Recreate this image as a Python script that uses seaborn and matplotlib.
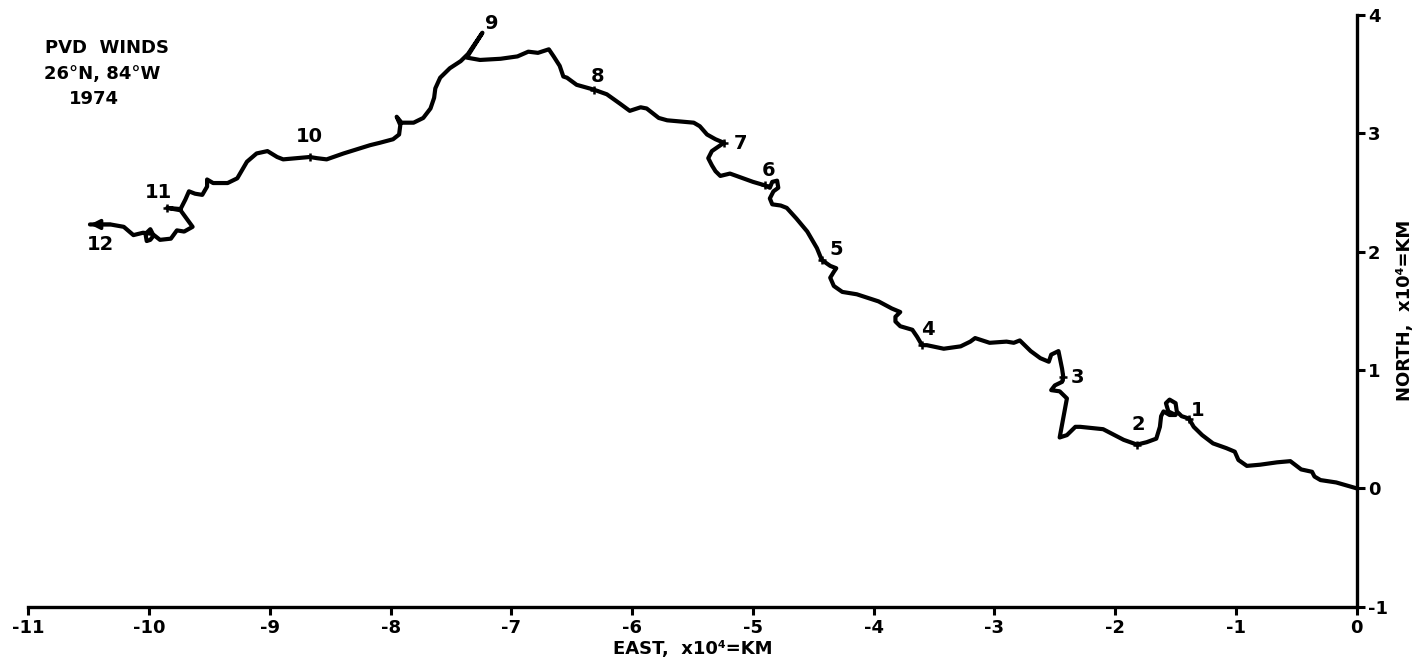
import matplotlib
matplotlib.use("Agg")
import matplotlib.pyplot as plt
import seaborn as sns
import pandas as pd

# ---- data (x10^4 km) ----
east = [0.00, -0.17, -0.30, -0.35, -0.37, -0.46, -0.55, -0.66, -0.80, -0.91, -0.98, -1.01, -1.08,
        -1.19, -1.28, -1.35, -1.39, -1.45, -1.49, -1.50, -1.55, -1.58, -1.56, -1.50, -1.55, -1.60,
        -1.62, -1.63, -1.66, -1.74, -1.82, -1.93, -2.10, -2.29, -2.33, -2.40, -2.46, -2.44, -2.42,
        -2.40, -2.46, -2.53, -2.50, -2.44, -2.43, -2.44, -2.46, -2.47, -2.53, -2.55, -2.62, -2.70,
        -2.79, -2.84, -2.90, -3.04, -3.16, -3.20, -3.28, -3.42, -3.56, -3.60, -3.64, -3.68, -3.78,
        -3.82, -3.82, -3.78, -3.85, -3.96, -4.14, -4.26, -4.33, -4.36, -4.33, -4.31, -4.36, -4.43,
        -4.47, -4.55, -4.64, -4.72, -4.77, -4.84, -4.86, -4.83, -4.79, -4.80, -4.84, -4.86, -4.90,
        -5.00, -5.11, -5.19, -5.27, -5.31, -5.34, -5.37, -5.34, -5.24, -5.31, -5.38, -5.44, -5.49,
        -5.60, -5.71, -5.78, -5.88, -5.93, -6.02, -6.10, -6.21, -6.32, -6.46, -6.54, -6.57, -6.60,
        -6.65, -6.69, -6.78, -6.86, -6.95, -7.09, -7.26, -7.37, -7.24, -7.36, -7.42, -7.51, -7.59,
        -7.63, -7.64, -7.67, -7.73, -7.81, -7.91, -7.95, -7.92, -7.93, -7.98, -8.09, -8.17, -8.39,
        -8.53, -8.61, -8.67, -8.78, -8.89, -8.94, -9.02, -9.11, -9.19, -9.23, -9.27, -9.35, -9.47,
        -9.52, -9.52, -9.56, -9.62, -9.67, -9.70, -9.74, -9.85, -9.74, -9.69, -9.64, -9.71, -9.77,
        -9.82, -9.91, -9.96, -9.99, -10.02, -10.03, -9.99, -9.97, -10.05, -10.13, -10.21, -10.32,
        -10.43, -10.49]
north = [0.00, 0.05, 0.07, 0.10, 0.14, 0.16, 0.23, 0.22, 0.20, 0.19, 0.24, 0.31, 0.34,
         0.38, 0.45, 0.52, 0.59, 0.61, 0.65, 0.72, 0.75, 0.72, 0.65, 0.62, 0.62, 0.65,
         0.61, 0.52, 0.42, 0.39, 0.37, 0.41, 0.50, 0.52, 0.52, 0.45, 0.43, 0.54, 0.65,
         0.76, 0.82, 0.83, 0.87, 0.90, 0.94, 1.01, 1.11, 1.16, 1.13, 1.07, 1.10, 1.16,
         1.25, 1.23, 1.24, 1.23, 1.27, 1.24, 1.20, 1.18, 1.21, 1.21, 1.28, 1.34, 1.37,
         1.41, 1.45, 1.49, 1.52, 1.58, 1.64, 1.66, 1.71, 1.78, 1.83, 1.86, 1.88, 1.93,
         2.03, 2.17, 2.28, 2.37, 2.39, 2.40, 2.45, 2.51, 2.54, 2.60, 2.59, 2.54, 2.56,
         2.59, 2.63, 2.66, 2.64, 2.68, 2.73, 2.79, 2.85, 2.92, 2.95, 2.99, 3.06, 3.09,
         3.10, 3.11, 3.13, 3.21, 3.22, 3.19, 3.25, 3.33, 3.37, 3.41, 3.47, 3.48, 3.57,
         3.65, 3.71, 3.68, 3.69, 3.65, 3.63, 3.62, 3.64, 3.85, 3.67, 3.61, 3.55, 3.47,
         3.38, 3.30, 3.21, 3.13, 3.09, 3.09, 3.14, 3.07, 2.99, 2.95, 2.92, 2.90, 2.83,
         2.78, 2.79, 2.80, 2.79, 2.78, 2.80, 2.85, 2.83, 2.76, 2.69, 2.62, 2.58, 2.58,
         2.61, 2.55, 2.48, 2.49, 2.51, 2.44, 2.36, 2.37, 2.35, 2.28, 2.21, 2.17, 2.18,
         2.11, 2.10, 2.14, 2.10, 2.09, 2.15, 2.19, 2.15, 2.16, 2.14, 2.21, 2.23,
         2.23, 2.23]

month_labels = ["1", "2", "3", "4", "5", "6", "7", "8", "9", "10", "11", "12"]
label_east = [-1.32, -1.81, -2.31, -3.55, -4.31, -4.87, -5.10, -6.29, -7.16, -8.67, -9.92, -10.40]
label_north = [0.66, 0.54, 0.94, 1.34, 2.02, 2.69, 2.91, 3.48, 3.93, 2.97, 2.50, 2.06]
# month tick marks along the track (months 1-8, 10, 11)
mark_east = [-1.39, -1.82, -2.43, -3.60, -4.43, -4.90, -5.24, -6.32, -8.67, -9.85]
mark_north = [0.59, 0.37, 0.94, 1.21, 1.93, 2.56, 2.92, 3.37, 2.80, 2.37]

x_ticks = [-11, -10, -9, -8, -7, -6, -5, -4, -3, -2, -1, 0]
y_ticks = [-1, 0, 1, 2, 3, 4]
title_lines = ["PVD  WINDS", "26°N, 84°W", "1974"]

# ---- plot ----
sns.set_theme(style="white")
plt.rcParams["font.family"] = ["DejaVu Sans"]
plt.rcParams["axes.unicode_minus"] = False
plt.rcParams["text.color"] = "black"
plt.rcParams["axes.labelcolor"] = "black"
plt.rcParams["xtick.color"] = "black"
plt.rcParams["ytick.color"] = "black"

fig = plt.figure(figsize=(14.18, 6.69), dpi=100)
ax = fig.add_axes([0.0200, 0.0931, 0.9368, 0.8845])

df = pd.DataFrame({"east": east, "north": north})
sns.lineplot(data=df, x="east", y="north", sort=False, estimator=None, ax=ax,
             color="black", linewidth=3.0, solid_capstyle="round", solid_joinstyle="round")
for ln in ax.lines:
    ln.set_clip_on(False)

ax.scatter(mark_east, mark_north, marker="+", s=35, color="black", linewidths=1.8, zorder=3)

# arrow head at the end (12)
ax.annotate("", xy=(east[-1], north[-1]), xytext=(east[-3], north[-3]),
            arrowprops=dict(arrowstyle="-|>", color="black", lw=2.5, mutation_scale=14,
                            shrinkA=0, shrinkB=0))

for t, xe, yn in zip(month_labels, label_east, label_north):
    ax.text(xe, yn, t, fontsize=14, fontweight="bold", ha="center", va="center", color="black")

ax.text(-10.35, 3.72, title_lines[0], fontsize=13, fontweight="bold", ha="center", va="center", color="black")
ax.text(-10.39, 3.50, title_lines[1], fontsize=13, fontweight="bold", ha="center", va="center", color="black")
ax.text(-10.46, 3.29, title_lines[2], fontsize=13, fontweight="bold", ha="center", va="center", color="black")

ax.set_xlim(-11, 0)
ax.set_ylim(-1, 4)
ax.set_xticks(x_ticks)
ax.set_xticklabels([str(v) for v in x_ticks])
ax.set_yticks(y_ticks)
ax.set_yticklabels([str(v) for v in y_ticks])
ax.yaxis.tick_right()
ax.yaxis.set_label_position("right")

for s in ["left", "top"]:
    ax.spines[s].set_visible(False)
for s in ["bottom", "right"]:
    ax.spines[s].set_visible(True)
    ax.spines[s].set_color("black")
    ax.spines[s].set_linewidth(2.4)

ax.tick_params(axis="x", direction="out", length=6, width=2.2, color="black",
               labelcolor="black", labelsize=13, pad=3, bottom=True)
ax.tick_params(axis="y", direction="out", length=6, width=2.2, color="black",
               labelcolor="black", labelsize=13, pad=2, right=True, left=False)
for lab in ax.get_xticklabels() + ax.get_yticklabels():
    lab.set_fontweight("bold")

ax.set_xlabel("EAST,  x10⁴=KM", fontsize=13, fontweight="bold", labelpad=2, color="black")
ax.set_ylabel("NORTH,  x10⁴=KM", fontsize=13, fontweight="bold", labelpad=6, rotation=90, color="black")
ax.grid(False)
ax.set_facecolor("white")
fig.patch.set_facecolor("white")

fig.savefig("out.png", dpi=100)
